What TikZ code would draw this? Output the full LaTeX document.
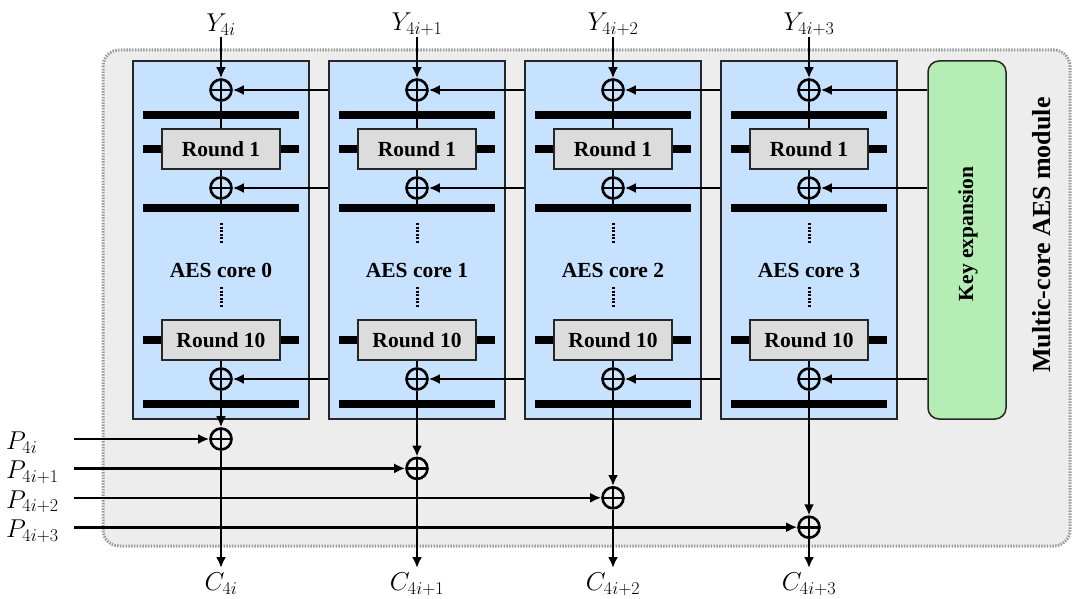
\RequirePackage{fix-cm}
\documentclass[tikz,border=0pt]{standalone}
\usepackage{fontspec}
\setmainfont{Liberation Serif}
\usetikzlibrary{arrows.meta}
\definecolor{bgray}{HTML}{EDEDED}
\definecolor{coreblue}{HTML}{C6E2FF}
\definecolor{keygreen}{HTML}{B4EEB4}
\definecolor{roundgray}{HTML}{DCDCDC}
\definecolor{dotgray}{HTML}{9A9A9A}
\newcommand\bftext{\fontsize{21.5}{25}\selectfont\bfseries}
\newcommand\bigbftext{\fontsize{26}{30}\selectfont\bfseries}
\newcommand\mtext{\fontsize{25.8}{30}\selectfont}
\begin{document}
\begin{tikzpicture}[x=1pt,y=-1pt,
  conn/.style={line width=2.6pt,-{Latex[length=11pt,width=10pt]}},
  plainline/.style={line width=2.6pt},
  xor/.style={circle,draw,line width=2.6pt,minimum size=21pt,inner sep=0pt,
    path picture={\draw[line width=2.6pt]
      (path picture bounding box.north)--(path picture bounding box.south)
      (path picture bounding box.west)--(path picture bounding box.east);}},
  corebox/.style={draw=black!85,line width=1.5pt,fill=coreblue,minimum width=176pt,minimum height=358pt,inner sep=0pt},
  keybox/.style={draw=black!85,line width=1.5pt,fill=keygreen,minimum width=78pt,minimum height=358pt,inner sep=0pt,rounded corners=11pt},
  barbox/.style={fill=black,minimum width=156pt,minimum height=8pt,inner sep=0pt},
  roundbox/.style={draw=black!85,line width=1.5pt,fill=roundgray,minimum width=118pt,minimum height=40pt,inner sep=0pt,font=\bftext},
  lbl/.style={font=\bftext,inner sep=0pt},
  mlbl/.style={font=\mtext,inner sep=1pt},
  dotline/.style={line width=3pt,dash pattern=on 2pt off 1.6pt}
]
\useasboundingbox (0,0) rectangle (1072,599);
% module background
\draw[fill=bgray,draw=dotgray,line width=3pt,dash pattern=on 1.5pt off 1.3pt,rounded corners=16pt]
  (103,50) rectangle (1070,546);
\node[font=\bigbftext,inner sep=0pt,rotate=90] (modlbl) at (1042,235) {Multic-core AES module};
% key expansion
\node[keybox] (key) at (967,240) {};
\node[lbl,rotate=90] (keylbl) at (968,234) {Key expansion};
% cores
\foreach \k/\sub in {0/4i,1/4i+1,2/4i+2,3/4i+3}{
  \pgfmathsetmacro\cx{221+196*\k}
  \pgfmathsetmacro\oy{439+29.4*\k}
  \node[corebox] (core\k) at (\cx,240) {};
  \node[barbox] (bA\k) at (\cx,115) {};
  \node[barbox] (bR\k) at (\cx,149) {};
  \node[barbox] (bB\k) at (\cx,208) {};
  \node[barbox] (bS\k) at (\cx,340) {};
  \node[barbox] (bC\k) at (\cx,404) {};
  \node[roundbox] (ra\k) at (\cx,149) {Round 1};
  \node[roundbox] (rb\k) at (\cx,340) {Round 10};
  \node[lbl] (corelbl\k) at (\cx,270) {AES core \k};
  \coordinate (dA\k) at (\cx,223);
  \coordinate (dB\k) at (\cx,244);
  \coordinate (dC\k) at (\cx,287);
  \coordinate (dD\k) at (\cx,308);
  \draw[dotline] (dA\k) -- (dB\k);
  \draw[dotline] (dC\k) -- (dD\k);
  \node[xor] (xa\k) at (\cx,90) {};
  \node[xor] (xb\k) at (\cx,188) {};
  \node[xor] (xc\k) at (\cx,379) {};
  \node[xor] (xo\k) at (\cx,\oy) {};
  \coordinate (yt\k) at (\cx,37);
  \node[mlbl,anchor=south] (ylbl\k) at (yt\k) {$Y_{\sub}$};
  \coordinate (ct\k) at (\cx,568);
  \node[mlbl,anchor=north] (clbl\k) at (\cx,572) {$C_{\sub}$};
  \coordinate (ps\k) at (74,\oy);
  \node[mlbl,anchor=west] (plbl\k) at (5,\oy+4) {$P_{\sub}$};
}
% connectors inside cores
\foreach \k in {0,1,2,3}{
  \draw[conn] (yt\k) -- (xa\k.north);
  \draw[plainline] (xa\k.south) -- (ra\k.north);
  \draw[plainline] (ra\k.south) -- (xb\k.north);
  \draw[plainline] (xb\k.south) -- (bB\k.center);
  \draw[plainline] (rb\k.south) -- (xc\k.north);
  \draw[conn] (xc\k.south) -- (xo\k.north);
  \draw[conn] (xo\k.south) -- (ct\k);
  \draw[conn] (ps\k) -- (xo\k.west);
}
% key distribution
\draw[conn] (key.west |- xa3.center) -- (xa3.east);
\draw[conn] (key.west |- xb3.center) -- (xb3.east);
\draw[conn] (key.west |- xc3.center) -- (xc3.east);
\foreach \k/\n in {0/1,1/2,2/3}{
  \draw[conn] (core\n.west |- xa\k.center) -- (xa\k.east);
  \draw[conn] (core\n.west |- xb\k.center) -- (xb\k.east);
  \draw[conn] (core\n.west |- xc\k.center) -- (xc\k.east);
}
\end{tikzpicture}
\end{document}
